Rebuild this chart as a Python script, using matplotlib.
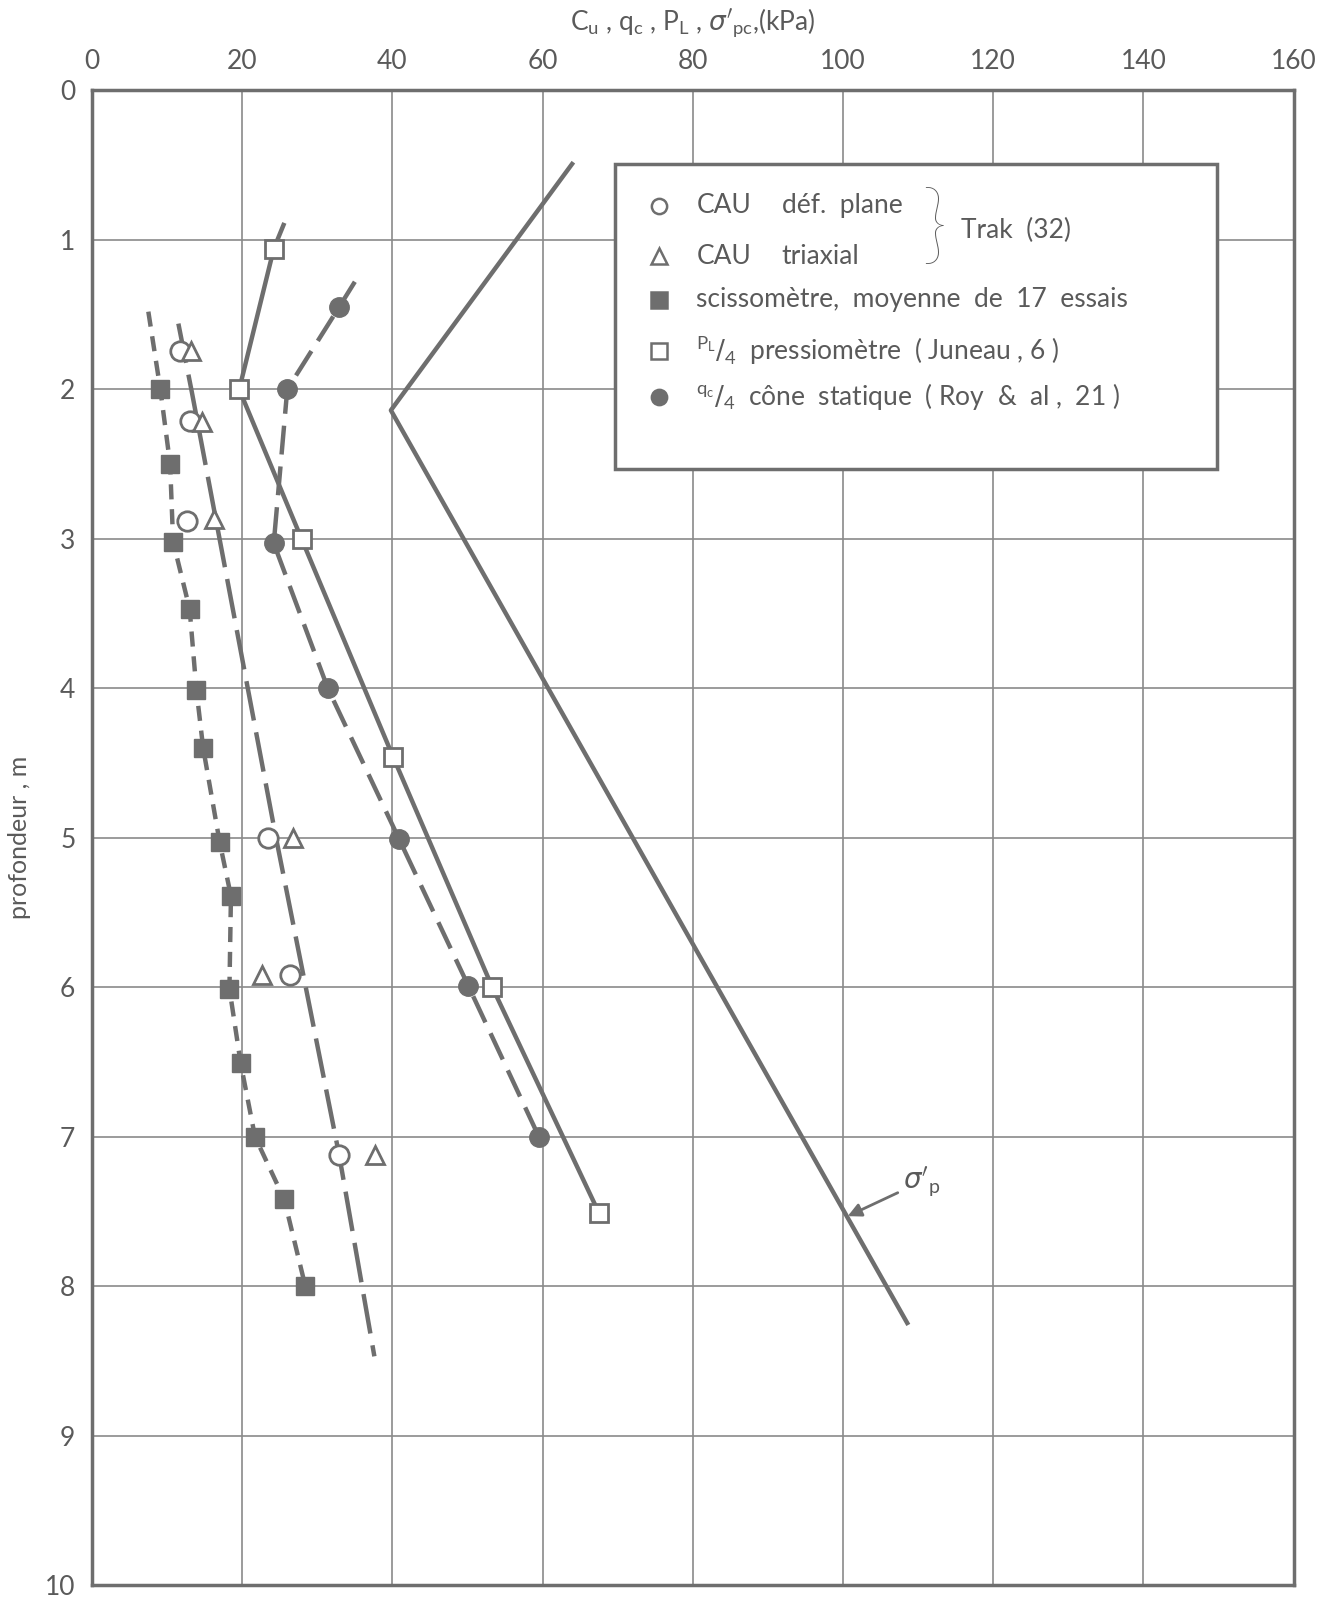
import matplotlib.pyplot as plt
import numpy as np

plt.rcParams['font.family'] = ['Lato', 'DejaVu Sans']

GREY = "#6e6e6e"
TXT = "#5a5a5a"

# sigma'p (preconsolidation) line
sp_x = [64.1, 39.8, 108.7]
sp_z = [0.48, 2.14, 8.26]

# PL/4 pressiometre (open squares, solid line)
pl_x = [24.2, 19.6, 27.9, 40.1, 53.3, 67.5]
pl_z = [1.06, 2.0, 3.0, 4.46, 6.0, 7.51]
pl_line_x = [25.5, 24.2, 19.6, 27.9, 40.1, 53.3, 67.5]
pl_line_z = [0.9, 1.06, 2.0, 3.0, 4.46, 6.0, 7.51]

# qc/4 cone statique (filled circles, dashed)
qc_x = [32.9, 26.0, 24.2, 31.4, 40.9, 50.1, 59.5]
qc_z = [1.45, 2.0, 3.03, 4.0, 5.01, 5.99, 7.0]
qc_line_x = [35.0, 32.9, 26.0, 24.2, 31.4, 40.9, 50.1, 59.5]
qc_line_z = [1.28, 1.45, 2.0, 3.03, 4.0, 5.01, 5.99, 7.0]

# scissometre (filled squares, short dashes)
sc_x = [9.1, 10.4, 10.8, 13.0, 13.9, 14.8, 17.0, 18.5, 18.3, 19.8, 21.7, 25.6, 28.4]
sc_z = [2.0, 2.5, 3.02, 3.47, 4.01, 4.4, 5.03, 5.39, 6.01, 6.51, 7.0, 7.42, 8.0]
sc_line_x = [7.5] + sc_x
sc_line_z = [1.48] + sc_z

# CAU trend line (long dashes)
cau_line_x = [11.5, 13.3, 24.5, 32.9, 37.6]
cau_line_z = [1.56, 2.02, 5.0, 7.12, 8.47]

# CAU def. plane (open circles)
dp_x = [11.7, 13.0, 12.6, 23.5, 26.4, 32.9]
dp_z = [1.74, 2.21, 2.88, 5.0, 5.92, 7.12]

# CAU triaxial (open triangles)
tx_x = [13.2, 14.7, 16.3, 26.8, 22.6, 37.7]
tx_z = [1.74, 2.22, 2.87, 5.0, 5.92, 7.12]

xticks = np.arange(0, 161, 20)
yticks = np.arange(0, 11, 1)

fig = plt.figure(figsize=(13.24, 16.01), dpi=100)
ax = fig.add_axes([0.0695, 0.010, 0.9075, 0.9335])

ax.set_xlim(0, 160)
ax.set_ylim(10, 0)
ax.set_xticks(xticks)
ax.set_yticks(yticks)
ax.xaxis.tick_top()
ax.xaxis.set_label_position("top")
ax.tick_params(length=0, labelsize=19, colors=TXT, pad=12)
ax.grid(True, color="#8a8a8a", lw=1.2)
ax.set_axisbelow(True)
for s in ax.spines.values():
    s.set_color(GREY)
    s.set_linewidth(2.5)

ax.set_xlabel(r"C$_\mathregular{u}$ , q$_\mathregular{c}$ , P$_\mathregular{L}$ , $\sigma'_\mathregular{pc}$,(kPa)",
              fontsize=19, color=TXT, labelpad=14)
ax.set_ylabel("profondeur , m", fontsize=18, color=TXT, labelpad=10)

lw = 3.2
ax.plot(sp_x, sp_z, color=GREY, lw=lw, solid_capstyle="butt")
ax.plot(pl_line_x, pl_line_z, color=GREY, lw=lw)
ax.plot(qc_line_x, qc_line_z, color=GREY, lw=lw, dashes=(6.5, 2.7))
ax.plot(sc_line_x, sc_line_z, color=GREY, lw=lw, dashes=(3.4, 2.2))
ax.plot(cau_line_x, cau_line_z, color=GREY, lw=lw, dashes=(9, 2.7))

ms = 13
ax.plot(pl_x, pl_z, "s", ms=ms, mfc="white", mec=GREY, mew=2)
ax.plot(qc_x, qc_z, "o", ms=ms + 1, mfc=GREY, mec=GREY)
ax.plot(sc_x, sc_z, "s", ms=ms, mfc=GREY, mec=GREY)
ax.plot(dp_x, dp_z, "o", ms=ms + 1, mfc="white", mec=GREY, mew=2)
ax.plot(tx_x, tx_z, "^", ms=ms, mfc="white", mec=GREY, mew=2)

ax.annotate(r"$\sigma'_\mathregular{p}$", xy=(100.3, 7.54), xytext=(108.0, 7.3),
            fontsize=20, color=TXT, va="center",
            arrowprops=dict(arrowstyle="-|>", color=GREY, lw=2, mutation_scale=20))

# legend box
tr = ax.transAxes
ax.add_patch(plt.Rectangle((0.435, 0.747), 0.501, 0.204, transform=tr,
                           facecolor="white", edgecolor=GREY, lw=2.5, zorder=5))
rows = [0.923, 0.889, 0.860, 0.826, 0.795]
mk = [("o", "white"), ("^", "white"), ("s", GREY), ("s", "white"), ("o", GREY)]
for y, (m, fc) in zip(rows, mk):
    ax.plot([0.472], [y], m, ms=11, mfc=fc, mec=GREY, mew=1.8, transform=tr,
            zorder=6, clip_on=False)
fs = 19
kw = dict(transform=tr, fontsize=fs, color=TXT, va="center", zorder=6)
ax.text(0.503, rows[0], "CAU", **kw)
ax.text(0.574, rows[0], "déf.  plane", **kw)
ax.text(0.503, rows[1], "CAU", **kw)
ax.text(0.574, rows[1], "triaxial", **kw)
ax.text(0.503, rows[2], "scissomètre,  moyenne  de  17  essais", **kw)
ax.text(0.503, rows[3], r"$^\mathregular{P_L}/_\mathregular{4}$  pressiomètre  ( Juneau , 6 )", **kw)
ax.text(0.503, rows[4], r"$^\mathregular{q_c}/_\mathregular{4}$  cône  statique  ( Roy  &  al ,  21 )", **kw)
ax.text(0.690, 0.907, "}", transform=tr, fontsize=64, color=TXT, va="center",
        fontweight="light", zorder=6)
ax.text(0.723, 0.906, "Trak  (32)", **kw)

fig.savefig("out.png", dpi=100)
